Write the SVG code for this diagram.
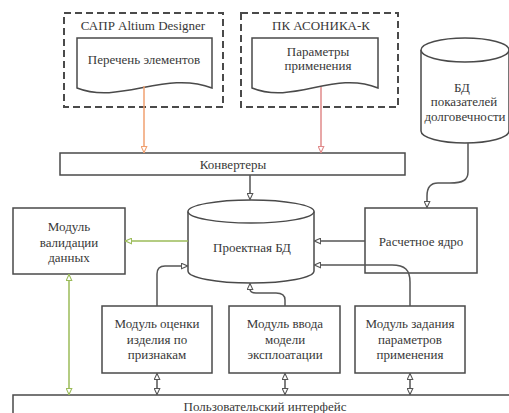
<svg xmlns="http://www.w3.org/2000/svg" width="509" height="413" viewBox="0 0 509 413">
<defs>
<style>
.t{font-family:"Liberation Serif","Times New Roman",serif;font-size:13px;fill:#383838;text-anchor:middle}
.s{fill:#fff;stroke:#4a4a4a;stroke-width:1.5}
.d{fill:none;stroke:#4a4a4a;stroke-width:2;stroke-dasharray:7 4}
.c{fill:none;stroke:#555;stroke-width:1.5}
</style>
<marker id="ag" viewBox="0 0 8 8" refX="8" refY="4" markerWidth="7" markerHeight="7" markerUnits="userSpaceOnUse" orient="auto-start-reverse"><path d="M0.5,0.8 L7.5,4 L0.5,7.2 Z" fill="#fff" stroke="#555" stroke-width="1.2"/></marker>
<marker id="ao" viewBox="0 0 8 8" refX="8" refY="4" markerWidth="7" markerHeight="7" markerUnits="userSpaceOnUse" orient="auto-start-reverse"><path d="M0.5,0.8 L7.5,4 L0.5,7.2 Z" fill="#fff" stroke="#f0a070" stroke-width="1.2"/></marker>
<marker id="ap" viewBox="0 0 8 8" refX="8" refY="4" markerWidth="7" markerHeight="7" markerUnits="userSpaceOnUse" orient="auto-start-reverse"><path d="M0.5,0.8 L7.5,4 L0.5,7.2 Z" fill="#fff" stroke="#e08a8a" stroke-width="1.2"/></marker>
<marker id="agr" viewBox="0 0 8 8" refX="8" refY="4" markerWidth="7" markerHeight="7" markerUnits="userSpaceOnUse" orient="auto-start-reverse"><path d="M0.5,0.8 L7.5,4 L0.5,7.2 Z" fill="#fff" stroke="#9bbb59" stroke-width="1.2"/></marker>
</defs>
<rect width="509" height="413" fill="#fff"/>

<g id="altium">
<rect class="d" x="64" y="13" width="159" height="94"/>
<text class="t" x="143" y="30">САПР Altium Designer</text>
<path class="s" d="M77,38 H212 V88 C165,70 120,105 77,88 Z"/>
<text class="t" x="144" y="64">Перечень элементов</text>
</g>

<g id="asonika">
<rect class="d" x="241" y="13" width="157" height="94"/>
<text class="t" x="321" y="30">ПК АСОНИКА-К</text>
<path class="s" d="M252,38 H378 V88 C334,70 294,105 252,88 Z"/>
<text class="t" x="318" y="56">Параметры</text>
<text class="t" x="318" y="70">применения</text>
</g>

<g id="bd-dolg">
<path class="s" d="M421,50 V131 A44,12 0 0 0 509,131 V50"/>
<ellipse class="s" cx="465" cy="50" rx="44" ry="12"/>
<text class="t" x="462" y="92">БД</text>
<text class="t" x="464" y="106">показателей</text>
<text class="t" x="465" y="121">долговечности</text>
</g>

<g id="converters">
<rect class="s" x="60" y="153" width="345" height="22"/>
<text class="t" x="233" y="169">Конвертеры</text>
</g>

<g id="proj-bd">
<path class="s" d="M188,211.5 V271 A63,12 0 0 0 314,271 V211.5"/>
<ellipse class="s" cx="251" cy="211.5" rx="63" ry="11.5"/>
<text class="t" x="252" y="252">Проектная БД</text>
</g>

<g id="validation">
<rect class="s" x="13" y="208" width="112" height="66"/>
<text class="t" x="69" y="231">Модуль</text>
<text class="t" x="69" y="247">валидации</text>
<text class="t" x="69" y="262">данных</text>
</g>

<g id="core">
<rect class="s" x="365" y="208" width="112" height="65"/>
<text class="t" x="421" y="246">Расчетное ядро</text>
</g>

<g id="mod-ocenki">
<rect class="s" x="102" y="306" width="110" height="67"/>
<text class="t" x="157" y="328">Модуль оценки</text>
<text class="t" x="157" y="344">изделия по</text>
<text class="t" x="157" y="359">признакам</text>
</g>

<g id="mod-vvoda">
<rect class="s" x="229" y="306" width="111" height="67"/>
<text class="t" x="285" y="328">Модуль ввода</text>
<text class="t" x="285" y="344">модели</text>
<text class="t" x="285" y="359">эксплоатации</text>
</g>

<g id="mod-zadaniya">
<rect class="s" x="355" y="306" width="110" height="67"/>
<text class="t" x="410" y="328">Модуль задания</text>
<text class="t" x="410" y="344">параметров</text>
<text class="t" x="410" y="359">применения</text>
</g>

<g id="ui">
<rect class="s" x="13" y="395" width="510" height="30"/>
<text class="t" x="265" y="411">Пользовательский интерфейс</text>
</g>

<g id="connectors">
<path d="M144,86 V153" fill="none" stroke="#f0a070" stroke-width="1.5" marker-end="url(#ao)"/>
<path d="M321,87 V153" fill="none" stroke="#e08a8a" stroke-width="1.5" marker-end="url(#ap)"/>
<path class="c" d="M250,175 V200" marker-end="url(#ag)"/>
<path class="c" d="M468,143 V172 C468,180 463,183 450,183 H438 C430,183 427,188 427,196 V208" marker-end="url(#ag)"/>
<path d="M188,241 H125" fill="none" stroke="#9bbb59" stroke-width="1.5" marker-end="url(#agr)"/>
<path d="M69,274 V395" fill="none" stroke="#9bbb59" stroke-width="1.5" marker-start="url(#agr)" marker-end="url(#agr)"/>
<path class="c" d="M365,241 H314" marker-end="url(#ag)"/>
<path class="c" d="M157,306 V274 Q157,266 165,266 H188" marker-end="url(#ag)"/>
<path class="c" d="M410,306 V282 C410,270 405,265 392,265 H314" marker-end="url(#ag)"/>
<path class="c" d="M285,306 V300 C285,295 282,293 276,293 H256 C252,293 250,291 250,289 V283" marker-end="url(#ag)"/>
<path class="c" d="M157,373 V395" marker-start="url(#ag)" marker-end="url(#ag)"/>
<path class="c" d="M285,373 V395" marker-start="url(#ag)" marker-end="url(#ag)"/>
<path class="c" d="M410,373 V395" marker-start="url(#ag)" marker-end="url(#ag)"/>
</g>
</svg>
